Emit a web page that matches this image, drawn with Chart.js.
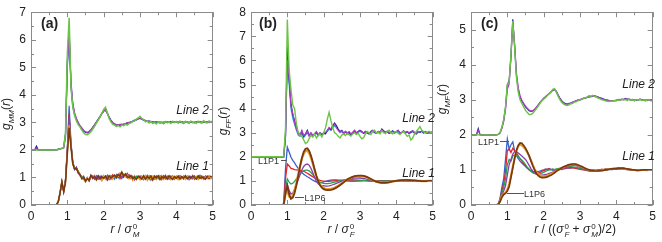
<!DOCTYPE html>
<html>
<head>
<meta charset="utf-8">
<title>g(r)</title>
<script src="https://cdn.jsdelivr.net/npm/chart.js@4.4.0/dist/chart.umd.min.js"></script>
<style>
body { margin: 0; background: #fff; }
#wrap { position: relative; width: 662px; height: 242px; background: #fff; overflow: hidden; }
canvas { position: absolute; top: 0; }
.t { position: absolute; font-family: 'Liberation Sans', Arial, sans-serif; color: #222; white-space: nowrap; line-height: 1; }
.pl { font-weight: bold; font-size: 14px; }
.ln { font-style: italic; font-size: 12px; }
.lp { font-size: 9px; color: #333; }
.ld { position: absolute; height: 1px; background: #555; }
.yt { font-size: 12px; transform: translate(-50%, -50%) rotate(-90deg); }
.yt sub { font-size: 8px; font-style: italic; }
.xt { font-size: 12px; transform: translateX(-50%); }
.ss { display: inline-block; vertical-align: -4px; font-size: 8px; line-height: 8px; margin-left: 1px; }
.ss span { display: block; }
</style>
</head>
<body>
<div id="wrap">
  <canvas id="ca" width="220" height="242" style="left:0"></canvas>
  <canvas id="cb" width="220" height="242" style="left:220px"></canvas>
  <canvas id="cc" width="220" height="242" style="left:440px"></canvas>

  <div class="t pl" style="left:41px;top:15.5px">(a)</div>
  <div class="t pl" style="left:259px;top:15.5px">(b)</div>
  <div class="t pl" style="left:481px;top:15.5px">(c)</div>

  <div class="t ln" style="right:453px;top:103.5px">Line 2</div>
  <div class="t ln" style="right:453px;top:159.5px">Line 1</div>
  <div class="t ln" style="right:227px;top:111.5px">Line 2</div>
  <div class="t ln" style="right:227px;top:166.5px">Line 1</div>
  <div class="t ln" style="right:7px;top:77.5px">Line 2</div>
  <div class="t ln" style="right:7px;top:150px">Line 1</div>

  <div class="t lp" style="left:258px;top:156.5px">L1P1</div>
  <div class="ld" style="left:280.5px;top:160px;width:6px"></div>
  <div class="t lp" style="left:304.5px;top:193.5px">L1P6</div>
  <div class="ld" style="left:295px;top:196.5px;width:9px"></div>
  <div class="t lp" style="left:478px;top:137.5px">L1P1</div>
  <div class="ld" style="left:499.5px;top:141px;width:9.5px"></div>
  <div class="t lp" style="left:524px;top:189.5px">L1P6</div>
  <div class="ld" style="left:506.5px;top:193px;width:17px"></div>

  <div class="t yt" style="left:8px;top:113.5px"><i>g</i><sub>MM</sub>(<i>r</i>)</div>
  <div class="t yt" style="left:225px;top:121px"><i>g</i><sub>FF</sub>(<i>r</i>)</div>
  <div class="t yt" style="left:444px;top:99px"><i>g</i><sub>MF</sub>(<i>r</i>)</div>

  <div class="t xt" style="left:125px;top:223px"><i>r</i> / <i>σ</i><span class="ss"><span>0</span><span><i>M</i></span></span></div>
  <div class="t xt" style="left:341px;top:223px"><i>r</i> / <i>σ</i><span class="ss"><span>0</span><span><i>F</i></span></span></div>
  <div class="t xt" style="left:575px;top:223px"><i>r</i> / ((<i>σ</i><span class="ss"><span>0</span><span><i>F</i></span></span> + <i>σ</i><span class="ss"><span>0</span><span><i>M</i></span></span>)/2)</div>
</div>

<script>
// r grid shared by all three panels
const r = [0,0.05,0.1,0.15,0.2,0.25,0.3,0.35,0.4,0.45,0.5,0.55,0.6,0.65,0.7,0.75,0.8,0.85,0.9,0.95,
  1,1.05,1.1,1.15,1.2,1.25,1.3,1.35,1.4,1.45,1.5,1.55,1.6,1.65,1.7,1.75,1.8,1.85,1.9,1.95,
  2,2.05,2.1,2.15,2.2,2.25,2.3,2.35,2.4,2.45,2.5,2.55,2.6,2.65,2.7,2.75,2.8,2.85,2.9,2.95,
  3,3.05,3.1,3.15,3.2,3.25,3.3,3.35,3.4,3.45,3.5,3.55,3.6,3.65,3.7,3.75,3.8,3.85,3.9,3.95,
  4,4.05,4.1,4.15,4.2,4.25,4.3,4.35,4.4,4.45,4.5,4.55,4.6,4.65,4.7,4.75,4.8,4.85,4.9,4.95,
  5];

// (a) g_MM
const aL2Navy = [2,2,2,2.14,2,2,2,2,2,2,2,2,2,2,2,2.03,2.05,2.06,2.1,2.6,
  5.2,6.4,4.3,3.6,3.28,3.1,2.96,2.86,2.77,2.68,2.64,2.62,2.65,2.72,2.8,2.9,3.0,3.1,3.2,3.32,
  3.42,3.46,3.34,3.18,3.07,2.98,2.93,2.9,2.92,2.88,2.91,2.93,2.95,2.98,2.97,3.01,3.04,3.06,3.1,3.13,
  3.15,3.12,3.08,3.06,3.03,3.05,3.01,3.03,2.99,3.02,3.0,2.98,3.01,2.97,3.0,3.02,2.99,3.03,3.0,3.01,
  3.02,2.99,3.01,3.03,2.98,3.0,3.02,2.99,3.01,3.0,2.98,3.02,3.0,3.03,2.99,3.01,3.0,3.02,2.99,3.01,
  3.0];
const aL2Cyan = [2,2,2,2.03,2,2,2,2,2,2,2,2,2,2,2,2.01,2.03,2.05,2.08,2.45,
  5.0,6.1,4.4,3.65,3.3,3.12,2.98,2.85,2.78,2.7,2.65,2.63,2.67,2.74,2.82,2.91,3.02,3.12,3.22,3.33,
  3.4,3.44,3.33,3.2,3.05,2.97,2.94,2.91,2.9,2.9,2.92,2.94,2.94,2.97,2.99,3.0,3.05,3.07,3.09,3.12,
  3.14,3.11,3.09,3.05,3.04,3.02,3.03,3.0,3.02,2.99,3.01,3.0,2.98,3.0,3.02,3.0,3.01,2.99,3.02,3.0,
  3.0,3.02,2.99,3.0,3.01,3.02,2.99,3.0,3.02,2.99,3.01,3.0,3.02,2.99,3.01,3.02,2.99,3.0,3.01,3.0,
  3.01];
const aL2Mag = [2,2,2,2.05,2,2,2,2,2,2,2,2,2,2,2,2.02,2.03,2.05,2.07,2.5,
  5.1,6.2,4.5,3.7,3.35,3.14,3.0,2.88,2.8,2.7,2.66,2.64,2.66,2.73,2.83,2.92,3.01,3.11,3.21,3.31,
  3.41,3.45,3.32,3.19,3.08,3.0,2.95,2.92,2.91,2.93,2.94,2.92,2.96,2.98,3.0,3.02,3.04,3.08,3.1,3.14,
  3.16,3.12,3.1,3.07,3.05,3.03,3.04,3.02,3.0,3.03,3.01,3.02,2.99,3.01,3.03,3.0,3.02,3.01,3.03,3.0,
  3.02,3.0,3.03,3.01,3.0,3.02,3.01,2.99,3.03,3.01,3.0,3.02,3.01,3.03,3.0,3.02,3.01,3.03,3.0,3.02,
  3.01];
const aL2Green = [2,2,2,2,2,2,2,2,2,2,2,2,2,2,2,2.02,2.04,2.06,2.1,2.6,
  5.5,6.8,4.3,3.55,3.25,3.05,2.92,2.83,2.72,2.62,2.56,2.55,2.6,2.66,2.76,2.86,2.97,3.08,3.2,3.33,
  3.47,3.55,3.36,3.14,3.02,2.93,2.9,2.85,2.89,2.84,2.9,2.88,2.93,2.9,2.96,2.98,3.03,3.05,3.12,3.16,
  3.22,3.14,3.1,3.02,3.05,2.98,3.03,2.96,3.0,2.94,3.02,2.97,3.0,2.95,3.03,2.98,3.02,2.96,3.04,2.99,
  3.03,2.97,3.05,2.99,2.96,3.04,3.0,2.96,3.05,2.99,3.02,2.96,3.04,3.0,2.97,3.06,3.0,2.98,3.05,3.02,
  3.05];
const aL1Blue = [0,0,0,0,0,0,0,0,0,0,0,0,0,0,0.02,0.1,0.42,0.82,0.48,0.95,
  2.1,3.6,2.3,1.55,1.3,1.38,1.18,1.12,0.98,1.05,0.88,0.97,0.9,1.08,1.02,0.93,1.06,0.96,1.03,0.9,
  1.02,0.95,1.08,0.92,1.0,1.06,0.94,1.1,0.98,1.04,0.96,1.12,1.05,1.15,1.0,1.08,0.94,1.02,0.97,1.05,
  0.95,1.03,0.92,1.06,0.98,1.04,0.9,1.02,1.07,0.96,1.03,0.94,1.05,0.99,1.08,0.95,1.02,0.97,1.06,0.93,
  1.04,0.98,1.07,0.95,1.02,0.97,1.05,0.92,1.03,0.99,1.06,0.96,1.02,1.08,0.95,1.01,0.97,1.05,1.0,0.96,
  1.02];
const aL1Red = [0,0,0,0,0,0,0,0,0,0,0,0,0,0,0.01,0.11,0.44,0.84,0.5,0.92,
  2.05,3.3,2.25,1.5,1.35,1.32,1.2,1.05,1.02,0.94,0.9,1.0,0.86,1.04,0.98,1.07,0.92,1.02,0.95,1.06,
  0.96,1.04,0.9,1.05,0.97,1.1,1.0,1.06,1.12,0.95,1.08,1.0,1.14,1.06,1.1,0.96,1.05,0.91,1.03,0.98,
  1.06,0.94,1.02,0.97,1.08,0.93,1.04,0.98,0.94,1.06,0.97,1.03,0.92,1.07,0.99,1.04,0.95,1.05,0.98,1.02,
  0.96,1.05,0.99,1.03,0.94,1.06,0.98,1.04,0.97,1.07,0.93,1.03,0.98,1.02,1.06,0.96,1.04,0.99,0.95,1.05,
  0.99];
const aL1Green = [0,0,0,0,0,0,0,0,0,0,0,0,0,0,0.02,0.12,0.46,0.86,0.52,0.88,
  1.95,3.1,2.2,1.6,1.32,1.3,1.25,1.08,1.04,0.98,0.87,0.93,0.95,1.02,1.06,0.96,1.01,1.07,0.94,1.0,
  1.05,0.98,1.03,0.94,1.07,1.02,1.09,0.97,1.1,1.07,1.16,1.04,1.1,1.0,1.05,0.99,1.02,0.95,1.05,1.0,
  0.98,1.05,0.97,1.02,0.94,1.06,1.0,0.96,1.04,1.01,0.95,1.07,0.99,1.02,0.94,1.05,1.0,1.03,0.96,1.04,
  1.0,0.95,1.04,1.01,0.97,1.03,0.96,1.06,1.0,0.95,1.04,1.02,0.97,1.05,0.99,1.03,0.96,1.02,1.05,0.98,
  1.01];
const aL1Purple = [0,0,0,0,0,0,0,0,0,0,0,0,0,0,0.01,0.1,0.43,0.83,0.49,0.9,
  2.0,3.2,2.15,1.52,1.28,1.36,1.15,1.1,1.0,0.92,0.91,0.99,0.88,1.0,1.04,0.95,1.03,0.94,1.05,0.97,
  1.0,1.06,0.96,1.02,0.93,1.05,1.0,1.03,1.08,1.14,1.02,1.1,1.06,0.98,1.07,1.01,0.97,1.04,0.95,1.02,
  1.03,0.97,1.05,0.95,1.01,0.98,1.06,0.94,1.03,0.97,1.05,1.0,0.96,1.04,0.97,1.02,0.94,1.04,1.01,0.97,
  1.02,0.96,1.03,0.99,1.05,0.95,1.02,0.98,1.04,0.96,1.01,0.97,1.05,0.98,1.03,0.97,1.05,0.96,1.02,1.0,
  1.0];
const aL1Orange = [0,0,0,0,0,0,0,0,0,0,0,0,0,0,0.02,0.11,0.44,0.85,0.5,0.85,
  1.9,2.9,2.15,1.45,1.35,1.3,1.22,1.08,1.0,0.96,0.84,0.98,0.92,1.05,0.96,1.04,0.9,1.02,0.97,0.88,
  1.06,0.93,1.0,0.97,1.04,0.94,1.06,1.0,1.05,1.17,1.08,1.12,1.02,1.08,0.95,1.03,0.9,1.06,0.94,1.0,
  0.92,1.04,0.96,1.07,0.9,1.03,0.95,1.05,0.97,0.92,1.04,0.98,1.07,0.93,1.02,0.96,1.05,0.92,1.03,0.97,
  1.05,0.92,1.02,0.97,1.06,0.93,1.04,0.99,0.94,1.05,0.97,1.03,0.92,1.0,1.04,0.93,1.02,0.97,1.06,0.95,
  1.0];
const aL1Brown = [0,0,0,0,0,0,0,0,0,0,0,0,0,0,0.01,0.12,0.45,0.84,0.48,0.82,
  1.85,2.8,2.1,1.5,1.3,1.33,1.18,1.1,0.95,1.0,0.86,0.95,0.9,1.08,0.97,1.03,0.92,1.05,0.95,1.02,
  0.97,1.04,0.93,1.06,0.99,1.03,1.08,1.0,1.1,1.06,1.2,1.05,1.12,1.03,1.0,1.06,0.96,1.02,0.93,1.04,
  1.0,0.95,1.06,0.94,1.03,0.97,1.05,0.91,1.04,0.98,1.06,0.93,1.03,0.98,1.04,0.94,1.06,0.98,0.93,1.03,
  0.97,1.05,0.94,1.03,0.98,1.06,0.95,1.02,0.97,1.05,1.0,0.94,1.06,0.97,1.03,0.98,0.94,1.04,0.98,1.03,
  0.98];

// (b) g_FF
const bL2Navy = [2,2,2,2,2,2,2,2,2,2,2,2,2,2,2,2,2,2,2,2.9,
  6.55,5.2,4.2,3.75,3.5,3.2,3.0,2.92,3.05,2.85,2.95,3.1,2.9,2.98,2.88,2.95,3.02,2.9,3.0,2.92,
  3.0,2.95,3.1,3.2,3.12,3.3,3.4,3.3,3.15,3.05,3.1,2.98,3.05,2.95,3.02,2.9,3.0,3.08,2.98,3.05,
  3.1,3.05,2.98,3.05,3.0,2.95,3.05,3.1,3.02,2.98,3.05,3.0,3.15,3.08,3.02,3.05,2.98,3.02,3.08,3.0,
  3.05,3.1,2.98,3.02,3.08,3.0,3.05,2.98,3.02,3.08,3.0,2.95,3.05,3.02,3.08,3.0,3.05,2.98,3.02,3.0,
  3.0];
const bL2Cyan = [2,2,2,2,2,2,2,2,2,2,2,2,2,2,2,2,2,2,2,2.85,
  6.4,5.0,4.0,3.6,3.35,3.1,2.9,2.85,2.95,2.8,2.9,3.0,2.88,2.95,2.85,2.92,2.98,2.88,2.95,2.9,
  2.95,2.98,3.05,3.15,3.1,3.2,3.3,3.25,3.12,3.0,3.05,2.95,3.02,2.97,3.0,2.92,2.98,3.05,3.0,3.02,
  3.05,3.02,2.97,3.02,2.98,2.95,3.02,3.05,3.0,2.97,3.02,2.98,3.1,3.05,3.0,3.02,2.97,3.0,3.05,2.98,
  3.02,3.05,2.97,3.0,3.05,2.98,3.02,2.97,3.0,3.05,2.98,2.95,3.02,3.0,3.05,2.98,3.02,2.97,3.0,2.98,
  2.98];
const bL2Mag = [2,2,2,2,2,2,2,2,2,2,2,2,2,2,2,2,2,2,2,2.8,
  6.0,5.3,4.1,3.8,3.4,3.15,2.95,2.9,3.1,2.88,2.92,3.05,2.85,3.0,2.9,2.95,3.05,2.92,2.97,2.95,
  2.98,3.02,3.08,3.22,3.15,3.28,3.35,3.2,3.1,3.02,3.08,2.97,3.05,3.0,3.05,2.95,3.02,3.1,3.0,3.05,
  3.08,3.02,3.0,3.06,3.02,2.98,3.05,3.08,3.04,3.0,3.05,3.02,3.12,3.05,3.02,3.07,3.0,3.04,3.05,3.02,
  3.04,3.08,3.0,3.02,3.06,3.02,3.04,3.0,3.05,3.07,3.02,2.98,3.05,3.03,3.06,3.02,3.04,3.0,3.04,3.02,
  3.02];
const bL2Green = [2,2,2,2,2,2,2,2,2,2,2,2,2,2,2,2,2,2,2,3.2,
  7.7,5.6,4.8,4.15,4.0,3.35,3.0,2.9,2.85,2.7,2.55,2.6,2.75,2.9,2.82,2.95,2.78,2.88,2.95,2.82,
  3.0,3.2,3.55,3.85,3.5,3.2,3.0,2.95,2.85,2.78,2.9,2.95,2.88,2.97,2.92,2.86,2.95,3.0,2.92,2.98,
  2.85,2.75,2.8,2.95,3.05,3.0,2.92,3.05,3.1,2.98,3.02,2.95,3.08,3.0,2.96,3.05,3.1,3.0,2.95,3.02,
  3.05,2.98,2.92,3.0,3.05,2.95,2.85,2.9,2.7,2.78,2.95,3.05,3.15,3.25,3.1,3.05,2.98,3.02,3.06,3.0,
  3.05];
const bL1Blue = [0,0,0,0,0,0,0,0,0,0,0,0,0,0,0,0,0,0,0.05,1.5,
  2.4,2.2,1.98,1.85,1.75,1.62,1.52,1.43,1.35,1.28,1.22,1.17,1.13,1.08,1.03,0.99,0.96,0.94,0.93,0.94,
  0.96,0.98,1.0,1.02,1.03,1.04,1.04,1.04,1.03,1.03,1.02,1.01,1.01,1.0,1.0,0.99,0.99,0.99,1.0,1.0,
  1.01,1.01,1.02,1.01,1.01,1.0,1.0,0.99,0.99,1.0,1.0,1.0,1.01,1.0,1.01,1.0,1.0,0.99,1.0,1.0,
  1.0,1.01,1.0,1.0,1.01,1.0,0.99,1.0,1.0,1.01,1.0,1.0,0.99,1.0,1.0,1.0,1.01,1.0,1.0,1.0,
  1.0];
const bL1Red = [0,0,0,0,0,0,0,0,0,0,0,0,0,0,0,0,0,0,0.04,1.1,
  1.7,1.62,1.52,1.5,1.47,1.46,1.45,1.44,1.42,1.4,1.36,1.32,1.27,1.22,1.17,1.12,1.08,1.05,1.02,1.0,
  0.99,0.98,0.98,0.98,0.99,1.0,1.0,1.01,1.01,1.01,1.02,1.02,1.01,1.01,1.0,1.0,1.0,1.0,1.0,1.0,
  1.0,1.0,1.01,1.01,1.01,1.0,1.0,1.0,0.99,0.99,0.99,1.0,1.0,1.0,1.0,1.0,1.01,1.0,1.0,1.0,
  1.0,1.0,1.01,1.0,1.0,1.0,1.0,0.99,1.0,1.0,1.0,1.01,1.0,1.0,1.0,0.99,1.0,1.0,1.0,1.0,
  1.0];
const bL1Green = [0,0,0,0,0,0,0,0,0,0,0,0,0,0,0,0,0,0,0.03,0.7,
  1.08,0.95,0.87,0.9,0.98,1.08,1.18,1.28,1.36,1.42,1.45,1.45,1.42,1.35,1.26,1.16,1.07,1.0,0.95,0.92,
  0.9,0.89,0.89,0.9,0.91,0.93,0.95,0.97,0.99,1.01,1.02,1.03,1.04,1.05,1.05,1.05,1.05,1.04,1.04,1.03,
  1.03,1.02,1.02,1.01,1.0,1.0,0.99,0.99,0.98,0.98,0.98,0.98,0.99,0.99,1.0,1.0,1.0,1.01,1.01,1.01,
  1.01,1.01,1.01,1.0,1.0,1.0,1.0,1.0,1.0,0.99,0.99,1.0,1.0,1.0,1.0,1.0,1.0,1.0,1.0,1.0,
  1.0];
const bL1Purple = [0,0,0,0,0,0,0,0,0,0,0,0,0,0,0,0,0,0,0.03,0.55,
  0.85,0.6,0.45,0.5,0.65,0.85,1.05,1.25,1.45,1.6,1.68,1.7,1.65,1.52,1.35,1.15,0.98,0.88,0.82,0.79,
  0.8,0.78,0.78,0.79,0.81,0.84,0.87,0.9,0.93,0.96,0.99,1.02,1.04,1.06,1.08,1.1,1.11,1.12,1.12,1.12,
  1.12,1.11,1.1,1.08,1.06,1.04,1.02,1.0,0.98,0.97,0.96,0.96,0.96,0.97,0.97,0.98,0.99,1.0,1.0,1.01,
  1.01,1.02,1.02,1.02,1.02,1.02,1.01,1.01,1.0,1.0,1.0,1.0,0.99,0.99,0.99,1.0,1.0,1.0,1.0,1.0,
  1.0];
const bL1Orange = [0,0,0,0,0,0,0,0,0,0,0,0,0,0,0,0,0,0,0.02,0.45,
  0.6,0.35,0.3,0.38,0.6,0.92,1.28,1.62,1.92,2.12,2.24,2.25,2.15,1.96,1.72,1.45,1.2,1.0,0.85,0.76,
  0.7,0.67,0.66,0.66,0.67,0.69,0.72,0.76,0.8,0.85,0.9,0.96,1.01,1.06,1.1,1.13,1.16,1.18,1.19,1.2,
  1.2,1.2,1.19,1.17,1.14,1.11,1.07,1.03,1.0,0.97,0.95,0.94,0.93,0.93,0.93,0.94,0.95,0.97,0.98,0.99,
  1.0,1.01,1.02,1.02,1.03,1.03,1.03,1.03,1.02,1.02,1.01,1.01,1.0,1.0,0.99,0.99,0.99,1.0,1.0,1.0,
  1.0];
const bL1Brown = [0,0,0,0,0,0,0,0,0,0,0,0,0,0,0,0,0,0,0.02,0.5,
  0.8,0.45,0.25,0.3,0.5,0.82,1.2,1.6,1.95,2.2,2.33,2.35,2.25,2.05,1.78,1.48,1.2,0.98,0.82,0.72,
  0.66,0.63,0.62,0.62,0.63,0.65,0.68,0.72,0.77,0.82,0.88,0.94,1.0,1.06,1.1,1.14,1.17,1.2,1.21,1.22,
  1.22,1.22,1.21,1.19,1.16,1.12,1.08,1.04,1.0,0.97,0.95,0.93,0.92,0.92,0.92,0.93,0.94,0.96,0.98,0.99,
  1.0,1.01,1.02,1.03,1.03,1.04,1.04,1.03,1.03,1.02,1.02,1.01,1.0,1.0,0.99,0.99,0.99,0.99,1.0,1.0,
  1.0];

// (c) g_MF
const cL2Navy = [2,2,2,2,2.18,2,2,2,2,2,2,2,2,2,2,2.01,2.06,2.2,2.42,2.78,
  3.42,3.55,4.25,5.3,4.55,3.7,3.3,3.08,2.96,2.88,2.8,2.74,2.69,2.67,2.68,2.72,2.78,2.85,2.92,2.98,
  3.04,3.08,3.13,3.17,3.22,3.27,3.3,3.24,3.14,3.04,2.97,2.92,2.89,2.88,2.9,2.91,2.93,2.95,2.97,2.99,
  3.0,3.02,3.04,3.05,3.07,3.08,3.09,3.1,3.11,3.1,3.08,3.06,3.04,3.02,3.0,2.99,2.98,2.98,2.97,2.98,
  2.98,3.01,2.99,3.02,3.0,3.04,3.01,3.02,2.99,3.01,2.98,3.0,2.99,3.02,3.01,3.0,2.98,3.0,2.99,3.0,
  2.99];
const cL2Mag = [2,2,2,2,2.13,2,2,2,2,2,2,2,2,2,2,2.01,2.05,2.18,2.38,2.72,
  3.3,3.45,4.2,5.2,4.6,3.78,3.35,3.12,2.99,2.9,2.82,2.76,2.71,2.68,2.69,2.73,2.79,2.86,2.93,2.99,
  3.05,3.09,3.14,3.18,3.23,3.28,3.29,3.22,3.12,3.03,2.96,2.91,2.88,2.88,2.89,2.91,2.94,2.96,2.98,3.0,
  3.01,3.03,3.05,3.06,3.08,3.09,3.1,3.11,3.1,3.09,3.07,3.05,3.03,3.01,3.0,2.99,2.98,2.97,2.97,2.98,
  2.99,3.0,3.01,3.0,3.02,3.01,3.03,3.0,3.01,2.99,3.0,2.98,3.0,3.01,3.0,2.99,3.0,2.98,2.99,2.98,
  2.98];
const cL2Green = [2,2,2,2,2,2,2,2,2,2,2,2,2,2,2,2.02,2.08,2.22,2.45,2.8,
  3.45,3.5,4.3,5.25,4.5,3.65,3.22,3.0,2.9,2.8,2.7,2.64,2.58,2.58,2.62,2.68,2.75,2.82,2.9,2.97,
  3.02,3.06,3.12,3.18,3.22,3.3,3.32,3.22,3.1,3.0,2.92,2.88,2.85,2.84,2.86,2.89,2.9,2.94,2.95,2.98,
  3.0,3.01,3.04,3.06,3.08,3.12,3.1,3.13,3.09,3.08,3.05,3.03,3.0,2.99,2.97,2.96,2.95,2.97,2.96,2.98,
  2.97,3.0,2.98,3.02,3.0,3.01,2.98,3.03,2.99,3.0,2.97,3.01,2.99,3.02,2.98,3.0,2.97,2.99,3.01,2.98,
  2.97];
const cL1Blue = [0,0,0,0,0,0,0,0,0,0,0,0,0,0,0,0.02,0.2,0.5,0.75,1.3,
  1.88,1.6,1.72,1.8,1.55,1.42,1.32,1.25,1.2,1.15,1.1,1.05,1.02,0.98,0.96,0.95,0.96,0.95,0.97,0.99,
  1.0,1.03,1.01,1.04,1.02,0.99,1.01,0.98,1.0,1.02,1.01,1.03,1.04,1.05,1.06,1.05,1.07,1.06,1.05,1.04,
  1.05,1.04,1.02,1.03,1.0,1.01,0.99,1.0,0.98,0.99,1.0,0.98,1.0,1.01,0.99,1.0,1.01,1.02,1.01,1.03,
  1.02,1.03,1.04,1.03,1.05,1.03,1.02,1.03,1.01,1.0,1.01,0.99,1.0,1.01,0.99,1.0,1.0,0.99,1.0,1.0,
  1.0];
const cL1Red = [0,0,0,0,0,0,0,0,0,0,0,0,0,0,0,0.02,0.15,0.4,0.6,0.95,
  1.55,1.6,1.5,1.62,1.55,1.48,1.4,1.32,1.25,1.18,1.12,1.05,1.0,0.96,0.92,0.9,0.9,0.91,0.93,0.96,
  0.98,1.0,1.02,1.03,1.01,1.02,1.0,1.01,1.02,1.03,1.04,1.05,1.06,1.07,1.06,1.07,1.06,1.05,1.04,1.03,
  1.02,1.01,1.0,0.99,0.98,0.99,0.98,0.99,1.0,0.99,1.01,1.0,1.02,1.01,1.02,1.01,1.03,1.02,1.03,1.04,
  1.03,1.04,1.03,1.05,1.02,1.03,1.01,1.02,1.0,1.01,0.99,1.0,1.01,0.99,1.0,1.0,0.99,1.0,0.99,1.0,
  1.0];
const cL1Green = [0,0,0,0,0,0,0,0,0,0,0,0,0,0,0,0.02,0.12,0.35,0.5,0.75,
  1.15,1.3,1.25,1.4,1.42,1.4,1.38,1.33,1.28,1.22,1.15,1.08,1.02,0.97,0.93,0.9,0.88,0.88,0.89,0.91,
  0.93,0.96,0.98,1.0,1.0,1.02,1.01,1.03,1.04,1.05,1.06,1.07,1.08,1.09,1.1,1.1,1.09,1.08,1.07,1.06,
  1.04,1.03,1.01,1.0,0.99,0.98,0.98,0.97,0.98,0.98,0.99,1.0,1.0,1.01,1.02,1.02,1.03,1.03,1.04,1.04,
  1.04,1.05,1.04,1.04,1.03,1.03,1.02,1.01,1.01,1.0,1.0,0.99,1.0,0.99,1.0,1.0,1.0,0.99,1.0,1.0,
  1.0];
const cL1Purple = [0,0,0,0,0,0,0,0,0,0,0,0,0,0,0,0.02,0.1,0.28,0.4,0.55,
  0.85,1.15,1.3,1.45,1.52,1.52,1.48,1.44,1.4,1.35,1.3,1.22,1.13,1.04,0.97,0.92,0.88,0.86,0.85,0.85,
  0.86,0.87,0.88,0.9,0.92,0.94,0.96,0.98,1.0,1.02,1.04,1.06,1.08,1.1,1.12,1.13,1.14,1.13,1.12,1.1,
  1.08,1.06,1.03,1.01,0.99,0.97,0.96,0.96,0.96,0.97,0.98,0.99,1.0,1.01,1.02,1.03,1.03,1.04,1.04,1.04,
  1.04,1.04,1.03,1.03,1.02,1.02,1.01,1.0,1.0,0.99,0.99,0.99,1.0,1.0,1.0,1.0,1.0,1.0,1.0,1.0,
  1.0];
const cL1Orange = [0,0,0,0,0,0,0,0,0,0,0,0,0,0,0,0.02,0.12,0.25,0.32,0.35,
  0.45,0.6,0.85,1.1,1.35,1.55,1.68,1.72,1.7,1.65,1.58,1.5,1.4,1.28,1.15,1.03,0.94,0.88,0.84,0.82,
  0.82,0.83,0.84,0.86,0.88,0.91,0.94,0.97,1.0,1.03,1.06,1.08,1.1,1.12,1.14,1.15,1.16,1.16,1.15,1.13,
  1.11,1.09,1.06,1.04,1.02,1.0,0.99,0.98,0.97,0.97,0.98,0.98,0.99,1.0,1.01,1.02,1.03,1.03,1.04,1.04,
  1.05,1.05,1.05,1.04,1.04,1.03,1.02,1.02,1.01,1.0,1.0,0.99,0.99,1.0,1.0,1.0,1.0,0.99,1.0,1.0,
  1.0];
const cL1Brown = [0,0,0,0,0,0,0,0,0,0,0,0,0,0,0,0.02,0.1,0.22,0.3,0.33,
  0.4,0.52,0.78,1.05,1.32,1.55,1.7,1.77,1.76,1.7,1.62,1.52,1.4,1.26,1.12,1.0,0.9,0.84,0.8,0.78,
  0.78,0.79,0.8,0.83,0.85,0.88,0.92,0.96,1.0,1.03,1.06,1.09,1.11,1.13,1.15,1.16,1.17,1.17,1.16,1.14,
  1.12,1.1,1.07,1.04,1.02,1.0,0.99,0.98,0.97,0.97,0.97,0.98,0.98,0.99,1.0,1.01,1.02,1.03,1.03,1.04,
  1.04,1.05,1.05,1.05,1.05,1.04,1.03,1.02,1.01,1.0,1.0,0.99,0.99,0.99,1.0,1.0,1.0,1.0,1.0,1.0,
  1.0];

const col = {
  navy: '#1e2296', cyan: '#25a4dc', magenta: '#b23ac4', lgreen: '#6cc447',
  blue: '#3a5fcf', red: '#e4222c', green: '#26a14e', purple: '#8b3fa9',
  orange: '#e59d1f', brown: '#7a3812'
};

Chart.defaults.font.family = "'Liberation Sans', Arial, sans-serif";
Chart.defaults.color = '#222';

// box with inward major/minor ticks on all four sides
const frameTicks = {
  id: 'frameTicks',
  afterDatasetsDraw(chart) {
    const ctx = chart.ctx, a = chart.chartArea;
    const sx = chart.scales.x, sy = chart.scales.y;
    ctx.save();
    ctx.strokeStyle = '#8a8a8a';
    ctx.lineWidth = 1;
    ctx.strokeRect(Math.round(a.left) + 0.5, Math.round(a.top) + 0.5,
      Math.round(a.right - a.left) - 1, Math.round(a.bottom - a.top) - 1);
    ctx.beginPath();
    for (let v = sx.min; v <= sx.max + 1e-9; v += 0.5) {
      const px = Math.round(sx.getPixelForValue(v)) + 0.5;
      const len = Number.isInteger(v) ? 5 : 3;
      ctx.moveTo(px, a.bottom); ctx.lineTo(px, a.bottom - len);
      ctx.moveTo(px, a.top); ctx.lineTo(px, a.top + len);
    }
    for (let v = sy.min; v <= sy.max + 1e-9; v += 0.5) {
      const py = Math.round(sy.getPixelForValue(v)) + 0.5;
      const len = Number.isInteger(v) ? 5 : 3;
      ctx.moveTo(a.left, py); ctx.lineTo(a.left + len, py);
      ctx.moveTo(a.right, py); ctx.lineTo(a.right - len, py);
    }
    ctx.stroke();
    ctx.restore();
  }
};

function makeChart(id, layers, ymax) {
  // layers listed bottom to top; chart.js draws dataset 0 last
  const datasets = layers.map(l => ({
    data: r.map((x, i) => ({ x: x, y: l[0][i] })),
    borderColor: l[1],
    borderWidth: l[2] || 1.2,
    pointRadius: 0,
    tension: 0,
    fill: false
  })).reverse();

  new Chart(document.getElementById(id), {
    type: 'line',
    data: { datasets: datasets },
    options: {
      responsive: false,
      animation: false,
      events: [],
      layout: { padding: { left: 0, right: 3, top: 7, bottom: 17 } },
      plugins: { legend: { display: false }, tooltip: { enabled: false } },
      scales: {
        x: {
          type: 'linear', min: 0, max: 5,
          grid: { display: false, drawTicks: false },
          border: { display: false },
          ticks: { stepSize: 1, padding: 4, maxRotation: 0, font: { size: 12 } },
          afterFit(s) { s.height = 20; }
        },
        y: {
          type: 'linear', min: 0, max: ymax,
          grid: { display: false, drawTicks: false },
          border: { display: false },
          ticks: { stepSize: 1, padding: 5, font: { size: 12 } },
          afterBuildTicks(s) { s.ticks = s.ticks.filter(t => Number.isInteger(t.value)); },
          afterFit(s) { s.width = 31; }
        }
      }
    },
    plugins: [frameTicks]
  });
}

makeChart('ca', [
  [aL1Blue, col.blue], [aL1Red, col.red], [aL1Green, col.green], [aL1Purple, col.purple],
  [aL1Orange, col.orange, 1.4], [aL1Brown, col.brown, 1.5],
  [aL2Cyan, col.cyan], [aL2Navy, col.navy], [aL2Mag, col.magenta], [aL2Green, col.lgreen, 1.5]
], 7);

makeChart('cb', [
  [bL1Blue, col.blue, 1.3], [bL1Red, col.red, 1.3], [bL1Green, col.green, 1.3], [bL1Purple, col.purple, 1.3],
  [bL1Orange, col.orange, 2.2], [bL1Brown, col.brown, 1.8],
  [bL2Cyan, col.cyan], [bL2Navy, col.navy], [bL2Mag, col.magenta], [bL2Green, col.lgreen, 1.4]
], 8);

makeChart('cc', [
  [cL1Blue, col.blue, 1.3], [cL1Red, col.red, 1.3], [cL1Green, col.green, 1.3], [cL1Purple, col.purple, 1.3],
  [cL1Orange, col.orange, 2], [cL1Brown, col.brown, 1.7],
  [cL2Navy, col.navy], [cL2Mag, col.magenta], [cL2Green, col.lgreen, 1.4]
], 5.5);
</script>
</body>
</html>
